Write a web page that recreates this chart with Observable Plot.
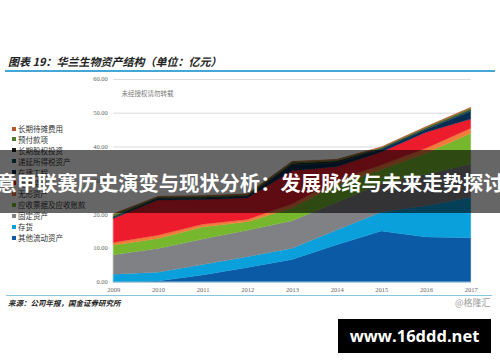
<!DOCTYPE html>
<html>
<head>
<meta charset="utf-8">
<script src="https://cdn.jsdelivr.net/npm/d3@7"></script>
<script src="https://cdn.jsdelivr.net/npm/@observablehq/plot@0.6"></script>
<style>
  html, body { margin: 0; padding: 0; background: #fff; }
  #wrap { position: relative; width: 500px; height: 362px; overflow: hidden; font-family: "Noto Sans CJK SC", sans-serif; }
  #chart { position: absolute; left: 0; top: 0; }
  .abs { position: absolute; white-space: nowrap; }
  .title { left: 8px; top: 54px; font-size: 11px; font-weight: bold; font-style: italic; color: #222; line-height: 14px; }
  .hr1 { left: 5px; top: 69.5px; width: 490px; height: 2px; background: #45a7d5; }
  .hr2 { left: 6px; top: 294.5px; width: 486px; height: 1.5px; background: #86c6e2; }
  .note { left: 121.5px; top: 89px; font-size: 6.5px; color: #777; line-height: 8px; }
  .source { left: 8px; top: 298px; font-size: 7.5px; font-weight: bold; font-style: italic; color: #222; line-height: 10px; }
  .glh { left: 455px; top: 297px; font-size: 9px; color: #999; line-height: 12px; }
  .legend { left: 12px; top: 0; font-size: 7.5px; color: #333; }
  .legend .row { position: absolute; left: 0; white-space: nowrap; line-height: 9px; height: 9px; }
  .legend .sw { position: absolute; left: 0; top: 2.5px; width: 4px; height: 4px; }
  .legend .tx { position: absolute; left: 6px; top: 0; }
  .band { left: 0; top: 150px; width: 500px; height: 63px; background: rgba(0,0,0,0.6); }
  .bandtext { left: 250px; top: 182px; transform: translate(-50%, -50%); font-size: 20.3px; font-weight: bold; color: #fff; line-height: 24px; }
  .box { left: 338px; top: 319px; width: 153px; height: 34px; background: #000; color: #fff; font-family: "Open Sans", sans-serif; font-weight: bold; font-size: 16.5px; line-height: 34px; text-align: center; }
</style>
</head>
<body>
<div id="wrap">
  <div id="chart"></div>
</div>
<script>
// ---- data ----
const years = [2009, 2010, 2011, 2012, 2013, 2014, 2015, 2016, 2017];
// stack order: bottom first
const seriesNames = ["其他流动资产", "存货", "固定资产", "应收票据及应收账款", "无形资产", "货币资金", "在建工程", "递延所得税资产", "长期股权投资", "预付款项", "长期待摊费用"];
const seriesColors = ["#0b5aa6", "#0aa0dc", "#808184", "#76b72e", "#f07c3a", "#ec1c2d", "#062c52", "#12505c", "#1a1a1a", "#4f7a26", "#b4582c"];
const 其他流动资产 = [0.0, 0.2, 2.0, 4.2, 6.6, 10.9, 15.0, 13.2, 13.0];
const 存货 = [2.2, 2.6, 3.1, 3.2, 3.3, 4.4, 5.6, 9.3, 12.0];
const 固定资产 = [5.8, 7.0, 7.5, 7.8, 8.1, 8.2, 8.4, 9.3, 9.8];
const 应收票据及应收账款 = [2.8, 3.0, 3.6, 2.5, 3.8, 5.2, 4.2, 6.2, 9.1];
const 无形资产 = [0.8, 0.95, 0.8, 0.7, 1.2, 1.3, 1.3, 1.5, 1.5];
const 货币资金 = [7.1, 10.45, 7.3, 6.4, 9.8, 4.0, 3.9, 4.7, 2.7];
const 在建工程 = [0.3, 0.4, 0.4, 0.4, 1.7, 1.2, 0.8, 0.8, 2.3];
const 递延所得税资产 = [0.1, 0.1, 0.1, 0.1, 0.1, 0.1, 0.1, 0.2, 0.3];
const 长期股权投资 = [0.2, 0.2, 0.2, 0.2, 0.4, 0.4, 0.2, 0.2, 0.2];
const 预付款项 = [0.6, 0.2, 0.3, 0.3, 0.4, 0.3, 0.2, 0.3, 0.4];
const 长期待摊费用 = [0.2, 0.2, 0.2, 0.2, 0.2, 0.2, 0.2, 0.2, 0.3];
const yTicks = [0, 10, 20, 30, 40, 50, 60];

const titleText = "图表 19：华兰生物资产结构（单位：亿元）";
const noteText = "未经授权请勿转载";
const sourceText = "来源：公司年报，国金证券研究所";
const bandText = "意甲联赛历史演变与现状分析：发展脉络与未来走势探讨";

const valuesBySeries = {其他流动资产, 存货, 固定资产, 应收票据及应收账款, 无形资产, 货币资金, 在建工程, 递延所得税资产, 长期股权投资, 预付款项, 长期待摊费用};
const tidy = [];
for (const s of seriesNames) {
  valuesBySeries[s].forEach((v, i) => tidy.push({series: s, year: years[i], value: v}));
}

const serif = "'Liberation Serif', 'DejaVu Serif', serif";
const chart = Plot.plot({
  width: 500,
  height: 362,
  marginLeft: 113.3,
  marginRight: 29.3,
  marginTop: 78.9,
  marginBottom: 80.3,
  style: {background: "transparent", overflow: "visible"},
  x: {domain: [2009, 2017], ticks: years, tickFormat: "d"},
  y: {domain: [0, 60], ticks: yTicks, tickFormat: ".2f"},
  color: {domain: seriesNames, range: seriesColors},
  marks: [
    Plot.gridY(yTicks, {stroke: "#d9d9d9", strokeOpacity: 1, strokeWidth: 1}),
    Plot.areaY(tidy, Plot.stackY({x: "year", y: "value", z: "series", fill: "series", stroke: "series", strokeWidth: 0.3, order: seriesNames})),
    Plot.ruleY([0], {stroke: "#9fcbe0", strokeWidth: 1}),
    Plot.axisY(yTicks, {tickSize: 0, tickPadding: 6, fontSize: 6.5, fontFamily: serif, fill: "#666", label: null, tickFormat: ".2f"}),
    Plot.axisX(years, {tickSize: 0, tickPadding: 5, fontSize: 6.5, fontFamily: serif, fill: "#666", label: null, tickFormat: "d"})
  ]
});
document.getElementById("chart").appendChild(chart);

const wrap = document.getElementById("wrap");
function add(cls, text) {
  const d = document.createElement("div");
  d.className = "abs " + cls;
  if (text != null) d.textContent = text;
  wrap.appendChild(d);
  return d;
}
add("title", titleText);
add("hr1");
add("note", noteText);
add("hr2");
add("source", sourceText);
add("glh", "@格隆汇");

// legend (top to bottom = reverse stack order)
const leg = add("legend");
const legendOrder = seriesNames.slice().reverse();
const legendColors = seriesColors.slice().reverse();
legendOrder.forEach((s, i) => {
  const r = document.createElement("div");
  r.className = "row";
  r.style.top = (124 + i * 10.9) + "px";
  const sw = document.createElement("div");
  sw.className = "sw";
  sw.style.background = legendColors[i];
  const tx = document.createElement("div");
  tx.className = "tx";
  tx.textContent = s;
  r.appendChild(sw); r.appendChild(tx);
  leg.appendChild(r);
});

add("band");
add("bandtext", bandText);
add("box", "www.16ddd.net");
</script>
</body>
</html>
